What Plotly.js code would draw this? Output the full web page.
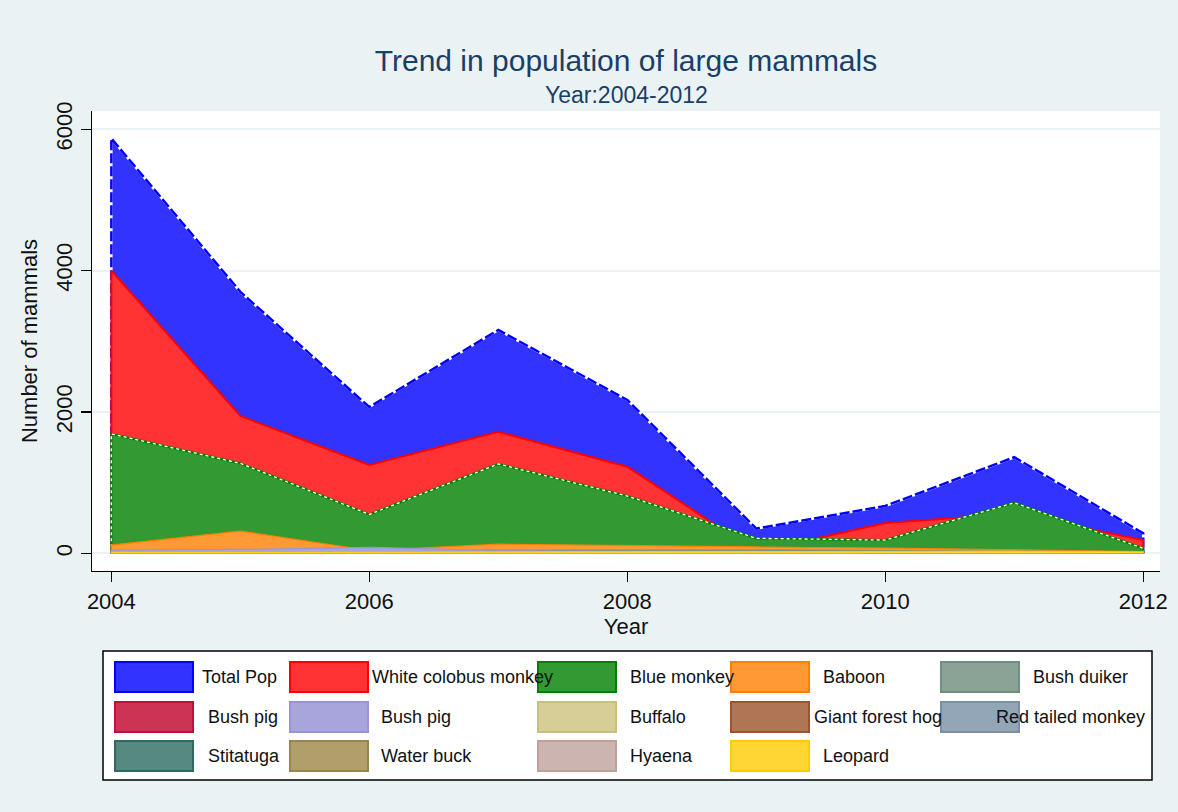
<!DOCTYPE html>
<html>
<head>
<meta charset="utf-8">
<script src="https://cdn.plot.ly/plotly-3.0.1.min.js"></script>
<style>html,body{margin:0;padding:0;background:#eaf2f3;}#chart{width:1178px;height:812px;}</style>
</head>
<body>
<div id="chart"></div>
<script>
// ---- data ----
const years = [2004, 2005, 2006, 2007, 2008, 2009, 2010, 2011, 2012];
const seriesNames = ["Total Pop", "White colobus monkey", "Blue monkey", "Baboon", "Bush duiker",
  "Bush pig", "Bush pig", "Buffalo", "Giant forest hog", "Red tailed monkey",
  "Stitatuga", "Water buck", "Hyaena", "Leopard"];
const totalPop       = [5870, 3700, 2070, 3160, 2170, 350, 670, 1360, 283];
const whiteColobus   = [4000, 1943, 1250, 1720, 1225, 20, 430, 560, 188];
const blueMonkey     = [1690, 1273, 550, 1264, 810, 212, 188, 716, 70];
const baboon         = [117, 315, 40, 130, 105, 90, 75, 45, 25];
const bushDuiker     = [30, 35, 40, 47, 47, 47, 40, 30, 20];
const bushPigA       = [10, 10, 12, 10, 8, 5, 5, 5, 3];
const bushPigB       = [47, 55, 85, 40, 20, 10, 15, 10, 8];
const buffalo        = [5, 5, 5, 5, 5, 3, 3, 2, 2];
const giantForestHog = [8, 6, 10, 8, 6, 4, 4, 3, 2];
const redTailed      = [20, 20, 25, 30, 30, 25, 20, 15, 10];
const stitatuga      = [3, 3, 2, 2, 2, 1, 1, 1, 1];
const waterBuck      = [6, 5, 5, 4, 4, 3, 3, 2, 2];
const hyaena         = [4, 3, 3, 3, 2, 2, 2, 1, 1];
const leopard        = [18, 18, 20, 22, 22, 25, 32, 28, 20];
const yTicks = [0, 2000, 4000, 6000];
const xTicks = [2004, 2006, 2008, 2010, 2012];

// ---- styles ----
const seriesValues = [totalPop, whiteColobus, blueMonkey, baboon, bushDuiker, bushPigA, bushPigB,
  buffalo, giantForestHog, redTailed, stitatuga, waterBuck, hyaena, leopard];
const fillColors = ["#3333ff", "#ff3333", "#339933", "#ff9933", "#8aa396", "#cc3355", "#a8a4dc",
  "#d6ce96", "#b07555", "#93a6b8", "#568a80", "#b09f6b", "#ccb4b0", "#ffd633"];
const lineColors = ["#0000ff", "#ff0000", "#008000", "#ff8000", "#6f8f7f", "#c0103a", "#9a94d4",
  "#c8c080", "#a0522d", "#7a90a6", "#2f6b60", "#9a8450", "#c0a09b", "#ffcc00"];

// outline path: vertical edge at both ends, then the values
function pathX() { return [years[0]].concat(years, [years[years.length - 1]]); }
function pathY(v) { return [0].concat(v, [0]); }

const traces = [];
seriesValues.forEach((v, i) => {
  const base = {x: pathX(), y: pathY(v), type: "scatter", mode: "lines", showlegend: false,
    hoverinfo: "skip", line: {shape: "linear"}};
  if (i === 0) {
    traces.push(Object.assign({}, base, {name: seriesNames[i], fill: "tozeroy", fillcolor: fillColors[i],
      line: {color: "#ffffff", width: 2.5}}));
    traces.push(Object.assign({}, base, {name: seriesNames[i] + " outline",
      line: {color: lineColors[i], width: 2.5, dash: "10px,3px"}}));
  } else if (i === 2) {
    traces.push(Object.assign({}, base, {name: seriesNames[i], fill: "tozeroy", fillcolor: fillColors[i],
      line: {color: lineColors[i], width: 2.2}}));
    traces.push(Object.assign({}, base, {name: seriesNames[i] + " outline",
      line: {color: "#ffffff", width: 1.3, dash: "3px,3px"}}));
  } else {
    traces.push(Object.assign({}, base, {name: seriesNames[i], fill: "tozeroy", fillcolor: fillColors[i],
      line: {color: lineColors[i], width: i === 1 ? 2 : 1.2}}));
  }
});

// ---- manual Stata-style legend (pixel layout converted to paper coords) ----
const plotL = 92, plotR = 1160, plotT = 111, plotB = 571;
const px2x = p => (p - plotL) / (plotR - plotL);
const py2y = p => (plotB - p) / (plotB - plotT);
const keyLeft = [115, 290, 538, 731, 941];
const keyW = 78, keyH = 30;
const rowTop = [662, 702, 741];
const labelLeft = [200, 370, 628, 821, 1031, 206, 379, 628, 812, 994, 206, 379, 628, 821];

const shapes = [{type: "rect", xref: "paper", yref: "paper", x0: px2x(103), x1: px2x(1152),
  y0: py2y(780), y1: py2y(651), fillcolor: "#ffffff", line: {color: "#000000", width: 1.5}, layer: "above"}];
const annotations = [];
seriesNames.forEach((nm, i) => {
  const col = i % 5, row = Math.floor(i / 5);
  const t = rowTop[row];
  shapes.push({type: "rect", xref: "paper", yref: "paper", x0: px2x(keyLeft[col]), x1: px2x(keyLeft[col] + keyW),
    y0: py2y(t + keyH), y1: py2y(t), fillcolor: fillColors[i], line: {color: lineColors[i], width: 2}, layer: "above"});
  annotations.push({xref: "paper", yref: "paper", x: px2x(labelLeft[i]), y: py2y(t + keyH / 2),
    xanchor: "left", yanchor: "middle", showarrow: false, text: nm,
    font: {family: "Liberation Sans, Arial, sans-serif", size: 18, color: "#111111"}});
});

const font = "Liberation Sans, Arial, sans-serif";
const layout = {
  width: 1178, height: 812,
  paper_bgcolor: "#eaf2f3", plot_bgcolor: "#ffffff",
  margin: {l: plotL, r: 1178 - plotR, t: plotT, b: 812 - plotB, pad: 0},
  font: {family: font, color: "#111111"},
  title: {text: "Trend in population of large mammals", x: 0.5, xanchor: "center",
    xref: "paper", y: 1 - 60 / 812, yref: "container", yanchor: "middle",
    font: {family: font, size: 30, color: "#1a3f66"}},
  xaxis: {range: [2003.85, 2012.13], tickvals: xTicks, ticktext: xTicks.map(String),
    ticks: "outside", ticklen: 10, tickwidth: 1.3, tickcolor: "#000000",
    showline: true, linecolor: "#000000", linewidth: 1.3, showgrid: false, zeroline: false,
    tickfont: {family: font, size: 22, color: "#111111"},
    title: {text: "Year", font: {family: font, size: 22, color: "#111111"}, standoff: 0}},
  yaxis: {range: [-250, 6259], tickvals: yTicks, ticktext: yTicks.map(String), tickangle: -90,
    ticks: "outside", ticklen: 10, tickwidth: 1.3, tickcolor: "#000000",
    showline: true, linecolor: "#000000", linewidth: 1.3,
    showgrid: true, gridcolor: "#eaf2f3", gridwidth: 2, zeroline: false,
    tickfont: {family: font, size: 22, color: "#111111"},
    title: {text: "Number of mammals", font: {family: font, size: 22, color: "#111111"}, standoff: 8}},
  shapes: shapes,
  annotations: annotations.concat([{xref: "paper", yref: "paper", x: 0.5, y: py2y(95),
    xanchor: "center", yanchor: "middle", showarrow: false, text: "Year:2004-2012",
    font: {family: font, size: 23, color: "#1a3f66"}}]),
  showlegend: false
};

Plotly.newPlot("chart", traces, layout, {displayModeBar: false, staticPlot: true});
</script>
</body>
</html>
